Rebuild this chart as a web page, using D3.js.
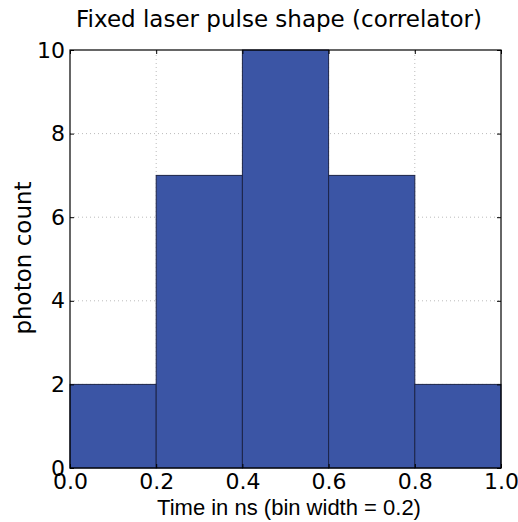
<!DOCTYPE html>
<html>
<head>
<meta charset="utf-8">
<script src="https://cdn.jsdelivr.net/npm/d3@7"></script>
<style>
  body { margin: 0; background: #fff; }
  text { font-family: "DejaVu Sans", sans-serif; }
</style>
</head>
<body>
<svg id="chart" width="518" height="522"></svg>
<script>
// bin edges and counts
const binStarts = [0.0, 0.2, 0.4, 0.6, 0.8];
const binWidth = 0.2;
const counts = [2, 7, 10, 7, 2];
const xTicks = [0.0, 0.2, 0.4, 0.6, 0.8, 1.0];
const yTicks = [0, 2, 4, 6, 8, 10];

const svg = d3.select('#chart');
const margin = {left: 70, right: 17, top: 50, bottom: 54};
const width = 518, height = 522;

let x = d3.scaleLinear().domain([0, 1]).range([margin.left, width - margin.right]);
let y = d3.scaleLinear().domain([0, 10]).range([height - margin.bottom, margin.top]);

// grid
svg.append('g')
   .selectAll('line')
   .data(xTicks.slice(1, -1))
   .enter()
   .append('line')
   .attr('x1', d => x(d)).attr('x2', d => x(d))
   .attr('y1', y(0)).attr('y2', y(10))
   .attr('stroke', '#bbb')
   .attr('stroke-width', 1)
   .attr('stroke-dasharray', '1,3');
svg.append('g')
   .selectAll('line')
   .data(yTicks.slice(1, -1))
   .enter()
   .append('line')
   .attr('x1', x(0)).attr('x2', x(1))
   .attr('y1', d => y(d)).attr('y2', d => y(d))
   .attr('stroke', '#bbb')
   .attr('stroke-width', 1)
   .attr('stroke-dasharray', '1,3');

// bars
svg.append('g')
   .selectAll('rect')
   .data(binStarts)
   .enter()
   .append('rect')
   .attr('x', d => x(d))
   .attr('y', (d, i) => y(counts[i]))
   .attr('width', d => x(d + binWidth) - x(d))
   .attr('height', (d, i) => y(0) - y(counts[i]))
   .attr('fill', '#3b55a5')
   .attr('stroke', '#1c2448')
   .attr('stroke-width', 1);

// axes with small inward ticks
svg.append('g')
   .attr('transform', `translate(0,${y(0)})`)
   .call(d3.axisBottom(x).tickValues(xTicks).tickFormat(d3.format('.1f'))
           .tickSizeInner(-4).tickSizeOuter(0).tickPadding(5));
svg.append('g')
   .attr('transform', `translate(${x(0)},0)`)
   .call(d3.axisLeft(y).tickValues(yTicks).tickFormat(d3.format('d'))
           .tickSizeInner(-4).tickSizeOuter(0).tickPadding(5));
svg.append('g')
   .attr('transform', `translate(0,${y(10)})`)
   .call(d3.axisTop(x).tickValues(xTicks).tickFormat('').tickSizeInner(-4).tickSizeOuter(0));
svg.append('g')
   .attr('transform', `translate(${x(1)},0)`)
   .call(d3.axisRight(y).tickValues(yTicks).tickFormat('').tickSizeInner(-4).tickSizeOuter(0));

svg.selectAll('.domain').remove();
svg.selectAll('.tick line').attr('stroke', '#000');
svg.selectAll('.tick text').attr('font-size', 22).attr('fill', '#000')
   .style('font-family', '"DejaVu Sans", sans-serif');

// frame
svg.append('rect')
   .attr('x', x(0)).attr('y', y(10))
   .attr('width', x(1) - x(0)).attr('height', y(0) - y(10))
   .attr('fill', 'none')
   .attr('stroke', '#000')
   .attr('stroke-width', 1.2);

// labels
svg.append('text')
   .attr('x', 279).attr('y', 27)
   .attr('text-anchor', 'middle')
   .attr('font-size', 23)
   .text('Fixed laser pulse shape (correlator)');
svg.append('text')
   .attr('x', 289).attr('y', 515)
   .attr('text-anchor', 'middle')
   .attr('font-size', 22)
   .style('font-family', '"Liberation Sans", Arial, sans-serif')
   .text('Time in ns (bin width = 0.2)');
svg.append('text')
   .attr('transform', `translate(31,258) rotate(-90)`)
   .attr('text-anchor', 'middle')
   .attr('font-size', 23)
   .text('photon count');
</script>
</body>
</html>
